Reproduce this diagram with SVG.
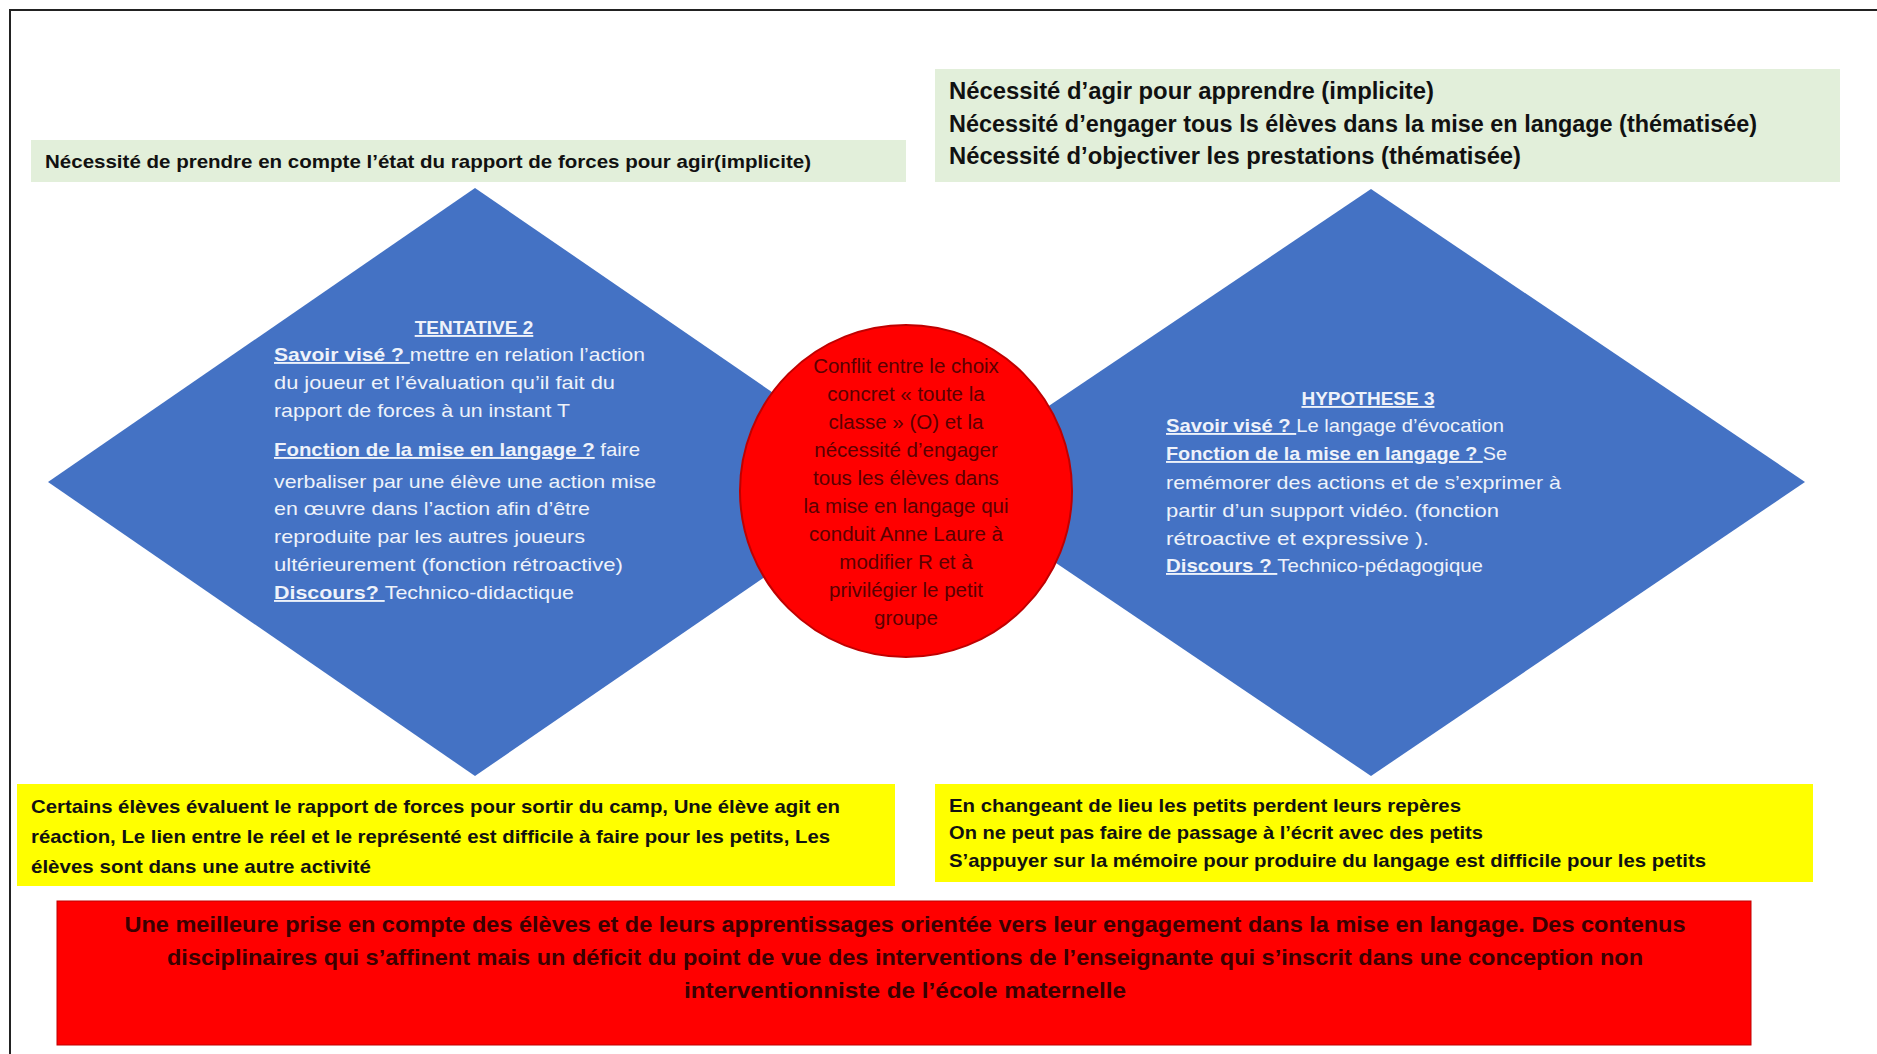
<svg xmlns="http://www.w3.org/2000/svg" width="1877" height="1054" viewBox="0 0 1877 1054">
<style>
text{font-family:"Liberation Sans",Arial,sans-serif}
.g{fill:#E2EFDA}
.y{fill:#FFFF00}
.dia{fill:#4472C4}
.bt{font-weight:bold;fill:#111}
.wt{fill:#eef2fa;font-size:19px}
.u{font-weight:bold;text-decoration:underline}
.ct{fill:#5a0000;font-size:20.5px;text-anchor:middle}
.rt{fill:#3a0000;font-weight:bold;font-size:22px;text-anchor:middle}
</style>
<rect width="1877" height="1054" fill="#fff"/>
<g id="frame"><path d="M10 1054 V10 H1877" fill="none" stroke="#222" stroke-width="2"/></g>
<g id="connectors"></g>
<g id="note-left">
<rect class="g" x="31" y="140" width="875" height="42"/>
<text class="bt" x="45" y="168" font-size="19" textLength="766" lengthAdjust="spacingAndGlyphs">Nécessité de prendre en compte l’état du rapport de forces pour agir(implicite)</text>
</g>
<g id="note-right">
<rect class="g" x="935" y="69" width="905" height="113"/>
<text class="bt" x="949" y="99" font-size="23" textLength="485" lengthAdjust="spacingAndGlyphs">Nécessité d’agir pour apprendre (implicite)</text>
<text class="bt" x="949" y="132" font-size="23" textLength="808" lengthAdjust="spacingAndGlyphs">Nécessité d’engager tous ls élèves dans la mise en langage (thématisée)</text>
<text class="bt" x="949" y="164" font-size="23" textLength="572" lengthAdjust="spacingAndGlyphs">Nécessité d’objectiver les prestations (thématisée)</text>
</g>
<g id="tentative2">
<polygon class="dia" points="475,188 903,482 475,776 48,482"/>
<text class="wt" x="474" y="334" text-anchor="middle"><tspan class="u">TENTATIVE 2</tspan></text>
<text class="wt" x="274" y="361" textLength="371" lengthAdjust="spacingAndGlyphs"><tspan class="u">Savoir visé ? </tspan>mettre  en relation l’action</text>
<text class="wt" x="274" y="389" textLength="341" lengthAdjust="spacingAndGlyphs">du joueur  et l’évaluation qu’il fait du</text>
<text class="wt" x="274" y="417" textLength="296" lengthAdjust="spacingAndGlyphs">rapport  de forces à un instant T</text>
<text class="wt" x="274" y="456" textLength="366" lengthAdjust="spacingAndGlyphs"><tspan class="u">Fonction de la mise en langage ?</tspan> faire</text>
<text class="wt" x="274" y="488" textLength="382" lengthAdjust="spacingAndGlyphs">verbaliser par une élève une action mise</text>
<text class="wt" x="274" y="515" textLength="316" lengthAdjust="spacingAndGlyphs">en œuvre dans l’action afin d’être</text>
<text class="wt" x="274" y="543" textLength="311" lengthAdjust="spacingAndGlyphs">reproduite  par les autres joueurs</text>
<text class="wt" x="274" y="571" textLength="349" lengthAdjust="spacingAndGlyphs">ultérieurement  (fonction rétroactive)</text>
<text class="wt" x="274" y="599" textLength="300" lengthAdjust="spacingAndGlyphs"><tspan class="u"> Discours?  </tspan>Technico-didactique</text>
</g>
<g id="hypothese3">
<polygon class="dia" points="1371,189 1805,482 1371,776 936,482"/>
<text class="wt" x="1368" y="405" text-anchor="middle"><tspan class="u">HYPOTHESE  3</tspan></text>
<text class="wt" x="1166" y="432" textLength="338" lengthAdjust="spacingAndGlyphs"><tspan class="u">Savoir visé ? </tspan>Le langage d’évocation</text>
<text class="wt" x="1166" y="460" textLength="341" lengthAdjust="spacingAndGlyphs"><tspan class="u">Fonction de la mise en langage ? </tspan>Se</text>
<text class="wt" x="1166" y="489" textLength="395" lengthAdjust="spacingAndGlyphs">remémorer  des actions et de s’exprimer à</text>
<text class="wt" x="1166" y="517" textLength="333" lengthAdjust="spacingAndGlyphs">partir d’un support vidéo. (fonction</text>
<text class="wt" x="1166" y="545" textLength="263" lengthAdjust="spacingAndGlyphs">rétroactive et expressive ).</text>
<text class="wt" x="1166" y="572" textLength="317" lengthAdjust="spacingAndGlyphs"><tspan class="u">Discours ? </tspan>Technico-pédagogique</text>
</g>
<g id="conflit">
<circle cx="906" cy="491" r="166" fill="#FF0000" stroke="#C00000" stroke-width="2"/>
<text class="ct" x="906" y="373">Conflit entre  le choix</text>
<text class="ct" x="906" y="401">concret  « toute  la</text>
<text class="ct" x="906" y="429">classe » (O) et la</text>
<text class="ct" x="906" y="457">nécessité d’engager</text>
<text class="ct" x="906" y="485">tous  les élèves dans</text>
<text class="ct" x="906" y="513">la mise en langage qui</text>
<text class="ct" x="906" y="541">conduit  Anne  Laure à</text>
<text class="ct" x="906" y="569">modifier  R et à</text>
<text class="ct" x="906" y="597">privilégier le petit</text>
<text class="ct" x="906" y="625">groupe</text>
</g>
<g id="obs-left">
<rect class="y" x="17" y="784" width="878" height="102"/>
<text class="bt" x="31" y="813" font-size="19" textLength="809" lengthAdjust="spacingAndGlyphs">Certains élèves évaluent le rapport de forces pour sortir du camp, Une élève agit en</text>
<text class="bt" x="31" y="843" font-size="19" textLength="799" lengthAdjust="spacingAndGlyphs">réaction, Le lien entre le réel et le représenté est difficile à faire pour les petits, Les</text>
<text class="bt" x="31" y="873" font-size="19" textLength="340" lengthAdjust="spacingAndGlyphs">élèves sont dans une autre activité</text>
</g>
<g id="obs-right">
<rect class="y" x="935" y="784" width="878" height="98"/>
<text class="bt" x="949" y="812" font-size="19" textLength="512" lengthAdjust="spacingAndGlyphs">En changeant de lieu les petits perdent leurs repères</text>
<text class="bt" x="949" y="839" font-size="19" textLength="534" lengthAdjust="spacingAndGlyphs">On ne peut pas faire de passage à l’écrit avec des petits</text>
<text class="bt" x="949" y="867" font-size="19" textLength="757" lengthAdjust="spacingAndGlyphs">S’appuyer sur la mémoire pour produire du langage est difficile pour les petits</text>
</g>
<g id="conclusion">
<rect x="57" y="901" width="1694" height="144" fill="#FF0000" stroke="#C00000" stroke-width="1"/>
<text class="rt" x="905" y="932" textLength="1561" lengthAdjust="spacingAndGlyphs">Une meilleure prise en compte des élèves et de leurs apprentissages orientée vers leur engagement dans la mise en langage. Des contenus</text>
<text class="rt" x="905" y="965" textLength="1476" lengthAdjust="spacingAndGlyphs">disciplinaires qui s’affinent mais un déficit du point de vue des interventions de l’enseignante qui s’inscrit dans une conception non</text>
<text class="rt" x="905" y="998" textLength="442" lengthAdjust="spacingAndGlyphs">interventionniste de l’école maternelle</text>
</g>
</svg>
